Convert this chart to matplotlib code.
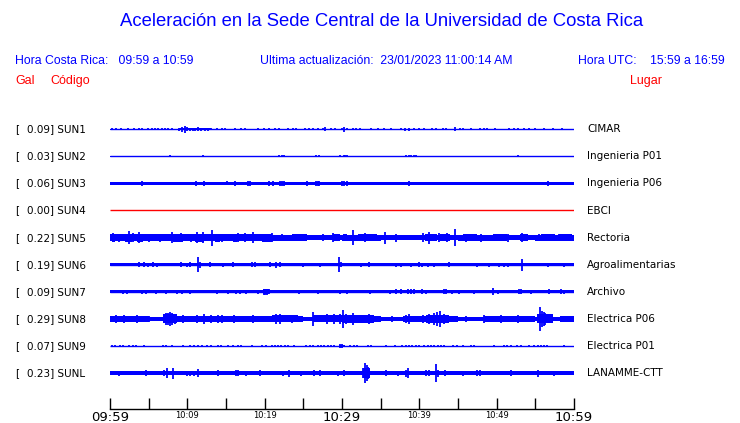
import matplotlib
matplotlib.use("Agg")
import matplotlib.pyplot as plt
import matplotlib.transforms as mtransforms
import numpy as np

# ---------------------------------------------------------------- data
codes = ["SUN1", "SUN2", "SUN3", "SUN4", "SUN5", "SUN6", "SUN7", "SUN8", "SUN9", "SUNL"]
places = ["CIMAR", "Ingenieria P01", "Ingenieria P06", "EBCI", "Rectoria",
          "Agroalimentarias", "Archivo", "Electrica P06", "Electrica P01", "LANAMME-CTT"]
peaks = [0.09, 0.03, 0.06, 0.00, 0.22, 0.19, 0.09, 0.29, 0.07, 0.23]

# minutes after 09:59, background half-width (Gal) every 5 minutes
band_knots = [0, 5, 10, 15, 20, 25, 30, 35, 40, 45, 50, 55, 60]
sun1_band = [0.008] * 13
sun2_band = [0.006] * 13
sun3_band = [0.046] * 13
sun4_band = [0.0] * 13
sun5_band = [0.08, 0.08, 0.08, 0.08, 0.075, 0.06, 0.075, 0.07, 0.07, 0.075, 0.07, 0.075, 0.075]
sun6_band = [0.032, 0.04, 0.04, 0.04, 0.04, 0.04, 0.04, 0.04, 0.04, 0.04, 0.04, 0.04, 0.04]
sun7_band = [0.04] * 13
sun8_band = [0.07, 0.06, 0.07, 0.07, 0.065, 0.06, 0.07, 0.055, 0.07, 0.055, 0.065, 0.06, 0.065]
sun9_band = [0.007] * 13
sunl_band = [0.055] * 13

# noisy stretches: (start minute, end minute, half amplitude in Gal)
sun1_bursts = [(8.9, 13.0, 0.03)]
sun2_bursts = []
sun3_bursts = []
sun4_bursts = []
sun5_bursts = [(0.3, 0.6, 0.1), (2.0, 2.8, 0.1), (3.5, 4.3, 0.1), (5.0, 5.8, 0.09), (6.7, 7.5, 0.095),
               (8.1, 9.4, 0.1), (11.0, 12.2, 0.1), (13.6, 14.2, 0.1), (15.9, 16.4, 0.1),
               (17.2, 18.6, 0.095), (19.7, 21.0, 0.1), (23.5, 25.5, 0.09), (28.8, 29.8, 0.09),
               (30.1, 30.6, 0.095), (32.1, 34.5, 0.085), (40.7, 42.3, 0.095), (42.7, 44.0, 0.09),
               (45.6, 47.4, 0.085), (49.5, 51.3, 0.085), (53.0, 54.0, 0.09), (55.7, 57.5, 0.085),
               (58.1, 59.8, 0.085)]
sun6_bursts = []
sun7_bursts = [(19.8, 20.6, 0.06)]
sun8_bursts = [(0.0, 2.9, 0.08), (6.9, 8.6, 0.11), (8.6, 13.4, 0.08), (13.4, 17.2, 0.085),
               (17.2, 21.0, 0.075), (21.0, 24.3, 0.09), (26.2, 30.0, 0.09), (30.0, 34.1, 0.095),
               (37.9, 40.9, 0.08), (40.9, 43.9, 0.1), (48.3, 53.0, 0.075), (55.2, 57.3, 0.11),
               (58.2, 60.0, 0.08)]
sun9_bursts = [(29.6, 30.4, 0.03)]
sunl_bursts = [(32.7, 33.6, 0.12)]

# single spikes: (minute, half amplitude in Gal)
sun1_events = [(0.2, 0.02), (0.8, 0.025), (1.4, 0.02), (2.3, 0.02), (3.1, 0.02), (3.7, 0.025),
               (4.1, 0.02), (4.9, 0.025), (5.4, 0.03), (5.8, 0.025), (6.2, 0.03), (6.7, 0.025),
               (7.1, 0.02), (7.5, 0.02), (8.0, 0.02), (8.9, 0.04), (9.3, 0.06), (9.7, 0.09),
               (10.0, 0.05), (10.3, 0.04), (10.7, 0.035), (11.0, 0.04), (11.4, 0.05), (11.8, 0.035),
               (12.3, 0.04), (12.7, 0.035), (13.0, 0.03), (13.9, 0.03), (14.5, 0.025), (14.9, 0.025),
               (16.1, 0.02), (16.9, 0.025), (17.5, 0.02), (19.2, 0.02), (19.9, 0.025), (20.6, 0.02),
               (21.4, 0.025), (21.9, 0.025), (23.0, 0.02), (23.7, 0.025), (24.0, 0.02), (25.2, 0.02),
               (25.7, 0.025), (26.2, 0.02), (26.9, 0.025), (27.5, 0.03), (27.8, 0.05), (28.6, 0.02),
               (29.1, 0.02), (30.0, 0.03), (30.3, 0.06), (30.7, 0.03), (31.4, 0.025), (31.8, 0.025),
               (32.3, 0.02), (33.7, 0.025), (34.6, 0.025), (35.4, 0.03), (36.3, 0.025), (37.6, 0.03),
               (38.1, 0.035), (38.7, 0.04), (39.3, 0.03), (40.0, 0.03), (40.6, 0.03), (41.7, 0.025),
               (42.1, 0.025), (43.0, 0.03), (43.4, 0.025), (44.6, 0.05), (45.2, 0.02), (45.7, 0.025),
               (46.7, 0.02), (47.9, 0.03), (48.4, 0.03), (48.8, 0.02), (49.8, 0.02), (51.6, 0.03),
               (52.2, 0.02), (52.7, 0.02), (53.5, 0.03), (54.2, 0.02), (55.0, 0.02), (56.1, 0.02),
               (57.3, 0.02), (58.4, 0.02)]
sun2_events = [(7.8, 0.02), (12.0, 0.025), (18.1, 0.01), (20.6, 0.01), (21.5, 0.01), (21.9, 0.025),
               (22.2, 0.025), (22.5, 0.02), (26.7, 0.025), (27.0, 0.025), (29.8, 0.02), (30.2, 0.025),
               (30.4, 0.025), (30.6, 0.025), (32.2, 0.01), (38.3, 0.025), (38.6, 0.025), (38.9, 0.025),
               (39.3, 0.02), (39.6, 0.02), (41.3, 0.01), (42.2, 0.01), (52.7, 0.02)]
sun3_events = [(4.2, 0.065), (11.1, 0.065), (12.2, 0.065), (15.1, 0.05), (16.1, 0.06), (17.8, 0.06),
               (18.1, 0.065), (20.6, 0.065), (21.1, 0.065), (22.0, 0.07), (22.3, 0.065), (22.5, 0.07),
               (25.5, 0.06), (26.7, 0.07), (26.9, 0.07), (27.0, 0.065), (30.0, 0.065), (30.3, 0.07),
               (30.6, 0.07), (38.7, 0.06), (56.7, 0.07)]
sun4_events = []
sun5_events = [(0.4, 0.11), (1.2, 0.1), (2.4, 0.17), (3.0, 0.11), (3.7, 0.14), (5.0, 0.1), (6.5, 0.1),
               (8.0, 0.13), (9.2, 0.12), (10.5, 0.1), (11.2, 0.14), (12.0, 0.13), (13.2, 0.2),
               (14.5, 0.1), (16.6, 0.12), (17.5, 0.12), (18.5, 0.14), (20.9, 0.11), (22.2, 0.09),
               (25.2, 0.08), (27.5, 0.09), (28.8, 0.11), (31.4, 0.19), (33.0, 0.11), (35.6, 0.15),
               (37.0, 0.1), (40.5, 0.11), (41.3, 0.15), (42.5, 0.11), (43.6, 0.12), (44.6, 0.22),
               (46.0, 0.1), (48.0, 0.1), (50.0, 0.09), (51.5, 0.1), (53.3, 0.12), (55.5, 0.09),
               (58.0, 0.08)]
sun6_events = [(3.8, 0.06), (4.4, 0.06), (4.9, 0.05), (5.6, 0.06), (6.1, 0.05), (9.2, 0.06),
               (10.0, 0.05), (10.4, 0.06), (11.4, 0.19), (11.7, 0.08), (12.9, 0.06), (14.6, 0.05),
               (15.9, 0.06), (18.3, 0.06), (18.7, 0.06), (20.7, 0.06), (21.5, 0.07), (22.0, 0.06),
               (24.9, 0.05), (27.1, 0.05), (29.6, 0.19), (29.9, 0.06), (32.5, 0.05), (33.5, 0.06),
               (37.0, 0.05), (37.6, 0.05), (38.9, 0.05), (40.0, 0.06), (40.4, 0.05), (41.1, 0.05),
               (41.9, 0.05), (43.9, 0.06), (47.4, 0.05), (49.0, 0.05), (50.3, 0.05), (51.0, 0.05),
               (51.5, 0.05), (53.3, 0.15), (56.7, 0.05), (58.7, 0.05)]
sun7_events = [(1.7, 0.05), (2.2, 0.05), (4.2, 0.055), (4.6, 0.05), (6.0, 0.055), (7.3, 0.05),
               (8.6, 0.05), (9.3, 0.055), (10.4, 0.05), (13.8, 0.05), (15.3, 0.055), (16.3, 0.055),
               (16.8, 0.05), (17.6, 0.05), (19.1, 0.05), (19.9, 0.07), (20.1, 0.08), (20.3, 0.07),
               (20.5, 0.06), (24.5, 0.05), (26.9, 0.05), (29.7, 0.05), (30.7, 0.05), (33.6, 0.055),
               (36.2, 0.05), (37.0, 0.06), (37.6, 0.06), (38.5, 0.065), (38.9, 0.06), (39.3, 0.06),
               (40.4, 0.06), (40.9, 0.055), (43.2, 0.065), (43.4, 0.06), (44.2, 0.055), (45.1, 0.055),
               (47.1, 0.055), (49.5, 0.09), (50.2, 0.05), (52.9, 0.065), (53.2, 0.06), (54.4, 0.05),
               (56.8, 0.06), (58.3, 0.06), (58.7, 0.055)]
sun8_events = [(0.8, 0.09), (1.8, 0.1), (3.5, 0.09), (5.0, 0.08), (7.2, 0.14), (7.5, 0.15),
               (7.8, 0.17), (8.0, 0.14), (8.4, 0.13), (9.5, 0.1), (11.3, 0.11), (12.1, 0.12),
               (13.0, 0.1), (14.0, 0.11), (14.5, 0.1), (16.0, 0.1), (18.5, 0.09), (21.5, 0.13),
               (22.0, 0.12), (23.5, 0.1), (26.3, 0.18), (28.0, 0.12), (29.0, 0.12), (29.7, 0.13),
               (30.1, 0.22), (30.5, 0.13), (31.4, 0.14), (32.5, 0.11), (33.5, 0.13), (36.5, 0.08),
               (38.3, 0.11), (38.7, 0.12), (40.5, 0.1), (41.3, 0.13), (41.9, 0.15), (42.3, 0.18),
               (42.7, 0.21), (43.2, 0.13), (46.0, 0.08), (48.4, 0.09), (50.5, 0.09), (52.7, 0.1),
               (53.8, 0.08), (55.6, 0.29), (55.8, 0.2), (56.1, 0.17), (56.3, 0.14), (56.5, 0.11),
               (58.5, 0.08)]
sun9_events = [(0.2, 0.02), (0.6, 0.02), (1.3, 0.02), (1.7, 0.02), (2.4, 0.02), (3.0, 0.025),
               (3.4, 0.025), (4.4, 0.02), (6.9, 0.025), (7.3, 0.025), (8.0, 0.02), (9.5, 0.02),
               (10.4, 0.025), (10.8, 0.02), (11.4, 0.025), (11.9, 0.025), (12.5, 0.025), (13.1, 0.02),
               (14.0, 0.02), (14.4, 0.02), (15.3, 0.02), (15.9, 0.025), (16.5, 0.025), (17.0, 0.02),
               (18.3, 0.02), (19.6, 0.02), (20.2, 0.025), (20.9, 0.02), (21.3, 0.025), (21.7, 0.025),
               (22.1, 0.025), (22.6, 0.025), (23.0, 0.02), (23.8, 0.02), (25.4, 0.025), (25.8, 0.025),
               (26.2, 0.02), (26.9, 0.025), (27.3, 0.025), (27.7, 0.025), (28.2, 0.025), (28.6, 0.02),
               (29.0, 0.02), (29.7, 0.04), (30.0, 0.045), (30.3, 0.035), (31.0, 0.025), (31.5, 0.025),
               (32.0, 0.02), (33.3, 0.025), (33.8, 0.02), (35.7, 0.015), (36.8, 0.015), (37.8, 0.02),
               (38.3, 0.025), (38.7, 0.025), (39.1, 0.025), (39.6, 0.025), (40.0, 0.02), (40.6, 0.02),
               (41.1, 0.02), (41.5, 0.025), (41.9, 0.025), (42.4, 0.025), (42.8, 0.025), (43.2, 0.02),
               (44.3, 0.015), (44.9, 0.015), (45.6, 0.02), (46.7, 0.02), (47.1, 0.015), (49.7, 0.02),
               (50.9, 0.02), (51.4, 0.025), (51.8, 0.03), (52.6, 0.02), (53.1, 0.02), (54.2, 0.015),
               (54.8, 0.02), (55.3, 0.025), (55.7, 0.025), (56.1, 0.02), (56.5, 0.02), (58.7, 0.015)]
sunl_events = [(1.2, 0.06), (4.7, 0.08), (7.0, 0.07), (7.4, 0.12), (8.2, 0.14), (9.9, 0.06),
               (10.3, 0.06), (10.8, 0.06), (11.4, 0.1), (14.0, 0.07), (16.3, 0.075), (16.6, 0.075),
               (17.6, 0.06), (19.4, 0.07), (22.4, 0.06), (23.2, 0.09), (24.7, 0.06), (26.4, 0.075),
               (27.1, 0.075), (29.5, 0.06), (30.3, 0.07), (32.7, 0.12), (33.0, 0.25), (33.2, 0.2),
               (33.4, 0.15), (35.7, 0.07), (37.2, 0.06), (38.3, 0.09), (38.5, 0.12), (40.9, 0.08),
               (41.3, 0.08), (42.1, 0.22), (42.4, 0.09), (43.3, 0.07), (45.6, 0.06), (47.5, 0.08),
               (47.9, 0.075), (51.8, 0.07), (55.3, 0.09), (57.4, 0.06)]

bands = [sun1_band, sun2_band, sun3_band, sun4_band, sun5_band,
         sun6_band, sun7_band, sun8_band, sun9_band, sunl_band]
bursts = [sun1_bursts, sun2_bursts, sun3_bursts, sun4_bursts, sun5_bursts,
          sun6_bursts, sun7_bursts, sun8_bursts, sun9_bursts, sunl_bursts]
events = [sun1_events, sun2_events, sun3_events, sun4_events, sun5_events,
          sun6_events, sun7_events, sun8_events, sun9_events, sunl_events]

tick_minutes = [0, 10, 20, 30, 40, 50, 60]
tick_labels = ["09:59", "10:09", "10:19", "10:29", "10:39", "10:49", "10:59"]
big_ticks = ["09:59", "10:29", "10:59"]

# ---------------------------------------------------------------- layout
W, H = 740, 423
BLUE = "#0000ff"
RED = "#ff0000"
px_per_gal = 40.0
row_gap = 27.1 / px_per_gal
first_row = 14.2 / px_per_gal

fig = plt.figure(figsize=(W / 100, H / 100), dpi=100)
fig.patch.set_facecolor("white")

ax = fig.add_axes([110 / W, (H - 387) / H, 464 / W, 272 / H])
ax.set_xlim(0, 60)
ax.set_ylim(-272 / px_per_gal, 0)
ax.axis("off")

label_tr = mtransforms.blended_transform_factory(fig.transFigure, ax.transData)

for i, code in enumerate(codes):
    off = -(first_row + i * row_gap)
    color = RED if peaks[i] == 0 else BLUE
    band = np.array(bands[i])
    ax.plot([0, 60], [off, off], color=color, lw=1.0, solid_capstyle="butt")
    if band.max() > 0:
        ax.fill_between(band_knots, off - band, off + band, step="post",
                        color=color, lw=0)
    for t0, t1, a in bursts[i]:
        ax.fill_between([t0, t1], off - a, off + a, color=color, lw=0)
    if events[i]:
        t = np.array([e[0] for e in events[i]])
        a = np.array([e[1] for e in events[i]])
        ax.vlines(t, off - a, off + a, color=color, lw=1.3)

    ax.text(15 / W, off, "[", transform=label_tr, va="center", ha="left",
            fontsize=7.5, family="DejaVu Sans")
    ax.text(27 / W, off, "%.2f] %s" % (peaks[i], code), transform=label_tr,
            va="center", ha="left", fontsize=7.5, family="DejaVu Sans")
    ax.text(587 / W, off, places[i], transform=label_tr, va="center", ha="left",
            fontsize=7.5, family="DejaVu Sans")

# time axis
ax_t = fig.add_axes([110 / W, (H - 409) / H, 464 / W, 0.0001])
ax_t.set_xlim(0, 60)
ax_t.set_yticks([])
for s in ["top", "left", "right"]:
    ax_t.spines[s].set_visible(False)
ax_t.spines["bottom"].set_linewidth(1.0)
ax_t.set_xticks(tick_minutes)
ax_t.set_xticks(np.arange(0, 61, 5), minor=True)
ax_t.set_xticklabels(tick_labels)
ax_t.tick_params(axis="x", which="both", direction="in", length=8, width=1.0, pad=1.5)
for lab in ax_t.get_xticklabels():
    lab.set_family("DejaVu Sans")
    lab.set_fontsize(9.5 if lab.get_text() in big_ticks else 6)

# header text
hdr = dict(family="Liberation Sans", color=BLUE, va="center")
fig.text(0.5 * (120 + 643) / W, 1 - 22 / H,
         "Aceleración en la Sede Central de la Universidad de Costa Rica",
         ha="center", fontsize=13.3, **hdr)
fig.text(15 / W, 1 - 61 / H, "Hora Costa Rica:   09:59 a 10:59", ha="left", fontsize=8.8, **hdr)
fig.text(260 / W, 1 - 61 / H, "Ultima actualización:  23/01/2023 11:00:14 AM", ha="left",
         fontsize=8.8, **hdr)
fig.text(725 / W, 1 - 61 / H, "Hora UTC:    15:59 a 16:59", ha="right", fontsize=8.8, **hdr)

red = dict(family="Liberation Sans", color=RED, va="center", fontsize=9)
fig.text(15 / W, 1 - 81 / H, "Gal", ha="left", **red)
fig.text(50 / W, 1 - 81 / H, "Código", ha="left", **red)
fig.text(662 / W, 1 - 81 / H, "Lugar", ha="right", **red)

fig.savefig("out.png", dpi=100)
